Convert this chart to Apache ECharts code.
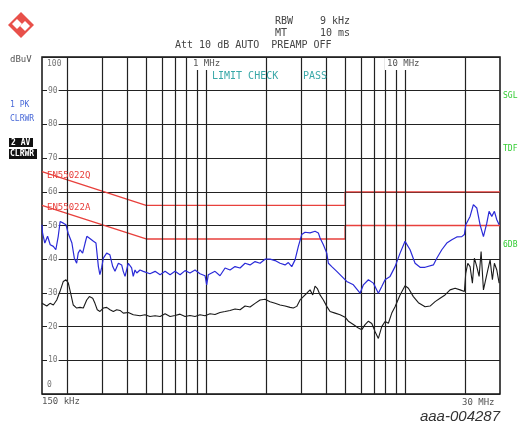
<!DOCTYPE html>
<html><head><meta charset="utf-8">
<script src="https://cdn.jsdelivr.net/npm/echarts@6/dist/echarts.min.js"></script>
<style>html,body{margin:0;padding:0;background:#fff;}#c{width:522px;height:430px;}</style>
</head><body><div id="c"></div>
<script>
// ---- data (frequency in MHz, level in dBuV) ----
const pkFreq = [0.150,0.151,0.155,0.160,0.165,0.171,0.176,0.181,0.185,0.188,0.192,0.198,0.203,0.212,0.218,0.224,0.228,0.233,0.240,0.247,0.252,0.259,0.272,0.280,0.288,0.293,0.299,0.305,0.317,0.329,0.340,0.349,0.356,0.363,0.370,0.377,0.384,0.392,0.407,0.415,0.423,0.431,0.440,0.449,0.466,0.484,0.494,0.523,0.555,0.588,0.623,0.660,0.699,0.741,0.785,0.831,0.881,0.933,0.989,1.008,1.027,1.110,1.176,1.247,1.321,1.399,1.483,1.571,1.665,1.764,1.869,1.980,2.098,2.224,2.356,2.496,2.593,2.697,2.802,2.911,3.027,3.145,3.333,3.531,3.668,3.742,3.888,4.044,4.120,4.285,4.540,4.809,5.095,5.500,5.945,6.177,6.545,6.933,7.345,7.640,7.937,8.410,8.911,9.442,10.00,10.20,10.60,11.23,11.90,12.61,13.88,14.44,15.30,16.21,17.18,18.20,19.28,19.87,20.19,21.22,22.05,22.93,23.83,24.77,25.75,26.44,27.28,28.12,28.91,29.70];
const pkLevel = [50.2,47.7,44.8,46.8,44.3,43.8,42.8,46.8,51.2,51.7,50.7,50.2,47.7,44.8,40.3,38.8,41.8,42.8,41.8,44.8,46.8,46.3,45.3,44.8,37.8,35.4,37.4,40.3,41.8,41.3,37.8,36.4,35.9,38.8,39.3,38.3,36.4,34.9,38.8,38.3,37.4,34.9,36.8,35.9,36.8,36.4,36.6,35.7,36.4,35.4,36.4,35.4,36.4,35.4,36.6,35.9,36.8,35.7,35.1,32.4,35.4,36.4,35.1,37.4,36.8,37.8,37.4,38.8,38.3,39.3,38.8,40.0,40.0,39.6,38.8,38.3,39.0,37.8,39.8,43.8,47.3,48.0,47.8,48.3,47.8,46.3,44.3,41.8,38.8,37.8,36.4,34.9,33.4,32.4,29.9,32.4,33.9,32.9,29.9,31.9,33.9,34.9,37.8,41.8,45.3,45.8,42.8,38.8,37.6,37.6,38.3,40.3,42.8,44.8,45.8,46.6,46.7,47.3,50.2,52.7,56.2,55.2,50.2,46.7,50.7,54.2,52.7,54.2,51.7,50.2];

const avFreq = [0.150,0.1523,0.1585,0.1646,0.171,0.1779,0.1846,0.1919,0.198,0.2034,0.2089,0.2154,0.224,0.2328,0.2419,0.2516,0.2594,0.2697,0.2768,0.2843,0.2934,0.3048,0.317,0.3294,0.3424,0.356,0.370,0.3843,0.407,0.4314,0.4662,0.494,0.523,0.555,0.588,0.623,0.660,0.699,0.741,0.785,0.831,0.881,0.933,0.989,1.048,1.110,1.176,1.247,1.321,1.399,1.483,1.571,1.665,1.764,1.869,1.980,2.098,2.224,2.356,2.496,2.644,2.746,2.857,2.969,3.084,3.208,3.333,3.439,3.531,3.627,3.742,3.888,4.044,4.201,4.452,4.716,4.998,5.191,5.500,5.828,6.062,6.300,6.545,6.808,7.073,7.345,7.640,7.937,8.247,8.580,8.911,9.442,10.00,10.40,11.01,11.67,12.61,13.36,14.16,15.00,15.89,16.84,17.85,18.91,19.87,20.19,20.67,21.22,21.80,22.31,22.93,23.56,24.11,24.77,25.25,26.06,26.76,27.48,28.12,28.91,29.70];
const avLevel = [26.9,26.4,26.1,26.9,26.4,27.9,30.4,33.4,33.9,32.9,29.9,26.4,25.5,25.7,25.5,27.9,28.9,28.4,26.9,25.0,24.5,25.5,25.7,25.0,24.5,25.0,24.8,24.0,24.2,23.5,23.2,23.5,23.0,23.2,23.0,23.8,23.0,23.3,23.7,23.0,23.3,23.0,23.5,23.2,23.8,23.6,24.2,24.5,24.8,25.2,25.0,26.1,25.8,26.9,27.9,28.1,27.4,26.9,26.4,26.1,25.7,25.5,26.0,27.9,28.9,29.9,30.9,29.4,32.0,31.3,29.4,27.9,26.0,24.5,24.0,23.5,22.8,21.6,20.6,19.6,19.1,20.6,21.6,20.9,18.5,16.5,20.0,21.5,21.0,24.0,25.9,29.4,32.1,31.4,28.9,27.1,25.9,26.1,27.4,28.4,29.4,30.9,31.4,30.9,30.4,35.9,38.8,37.8,32.9,40.3,37.8,34.9,42.3,30.9,30.4,36.8,39.8,33.9,38.8,36.8,32.9];

const limitFreq = [0.15, 0.5, 5, 5, 30];
const limitQP = [66, 56, 56, 60, 60];
const limitAV = [56, 46, 46, 50, 50];

const gridFreqs = [0.2,0.3,0.4,0.5,0.6,0.7,0.8,0.9,1,2,3,4,5,6,7,8,9,10,20];
const yMin = 0, yMax = 100, yStep = 10;

const pairs = (xs, ys) => xs.map((x, i) => [x, ys[i]]);

const MONO = '"DejaVu Sans Mono", monospace';
function txt(x, y, s, size, fill, extra) {
  return {
    type: 'text', x: x, y: y, silent: true, z: 100,
    style: Object.assign({ text: s, font: size + 'px ' + MONO, fill: fill, verticalAlign: 'middle', align: 'left' }, extra || {})
  };
}

const chart = echarts.init(document.getElementById('c'));
chart.setOption({
  animation: false,
  backgroundColor: '#fff',
  grid: { left: 42, top: 57, width: 458, height: 337, show: true, borderColor: '#111', borderWidth: 1.5, backgroundColor: 'transparent' },
  xAxis: { type: 'log', logBase: 10, min: 0.15, max: 30,
    axisLine: { show: false }, axisTick: { show: false }, axisLabel: { show: false }, splitLine: { show: false } },
  yAxis: { type: 'value', min: yMin, max: yMax, interval: yStep,
    axisLine: { show: false }, axisTick: { show: false },
    splitLine: { lineStyle: { color: '#222', width: 1.2 } },
    axisLabel: { inside: true, margin: 5, color: '#777', fontSize: 8, fontFamily: MONO,
      formatter: v => v === yMax ? '{a|' + v + '}' : (v === yMin ? '{b|' + v + '}' : '{c|' + v + '}'),
      rich: {
        a: { padding: [14, 0, 0, 0], fontSize: 8, color: '#777', fontFamily: MONO },
        b: { padding: [0, 0, 18, 0], fontSize: 8, color: '#777', fontFamily: MONO },
        c: { backgroundColor: '#fff', padding: [0, 1, 0, 1], fontSize: 8, color: '#777', fontFamily: MONO }
      } } },
  series: [
    { type: 'line', data: [], silent: true, z: 1,
      markLine: { silent: true, symbol: ['none', 'none'], label: { show: false }, animation: false,
        lineStyle: { color: '#222', width: 1.2, type: 'solid' },
        data: gridFreqs.map(f => ({ xAxis: f })) } },
    { name: 'QP limit', type: 'line', data: pairs(limitFreq, limitQP), showSymbol: false, silent: true, z: 3,
      lineStyle: { color: '#e8403c', width: 1.3 } },
    { name: 'AV limit', type: 'line', data: pairs(limitFreq, limitAV), showSymbol: false, silent: true, z: 3,
      lineStyle: { color: '#e8403c', width: 1.3 } },
    { name: '2 AV', type: 'line', data: pairs(avFreq, avLevel), showSymbol: false, silent: true, z: 4,
      lineStyle: { color: '#1a1a1a', width: 1.1 } },
    { name: '1 PK', type: 'line', data: pairs(pkFreq, pkLevel), showSymbol: false, silent: true, z: 5,
      lineStyle: { color: '#2a2ad8', width: 1.2 } }
  ],
  graphic: [
    // logo
    { type: 'polygon', shape: { points: [[21, 12], [34, 25], [21, 38], [8, 25]] }, style: { fill: '#e8504a' }, silent: true },
    { type: 'polygon', shape: { points: [[17, 19], [22, 24], [17, 29], [12, 24]] }, style: { fill: '#fff' }, silent: true },
    { type: 'polygon', shape: { points: [[25, 21], [30, 26], [25, 31], [20, 26]] }, style: { fill: '#fff' }, silent: true },
    // white masks behind the frequency marks at the top of the frame
    { type: 'rect', z: 50, silent: true, shape: { x: 191, y: 58, width: 32, height: 12 }, style: { fill: '#fff' } },
    { type: 'rect', z: 50, silent: true, shape: { x: 385, y: 58, width: 37, height: 12 }, style: { fill: '#fff' } },
    txt(275, 21.5, 'RBW', 10, '#444'),
    txt(320, 21.5, '9 kHz', 10, '#444'),
    txt(275, 33, 'MT', 10, '#444'),
    txt(320, 33, '10 ms', 10, '#444'),
    txt(175, 45, 'Att 10 dB AUTO  PREAMP OFF', 10, '#444'),
    txt(10, 60, 'dBuV', 9, '#555'),
    txt(10, 105, '1 PK', 8, '#4a6ad8'),
    txt(10, 119, 'CLRWR', 8, '#4a6ad8'),
    { type: 'rect', shape: { x: 9, y: 138, width: 24, height: 9 }, style: { fill: '#111' }, silent: true },
    { type: 'rect', shape: { x: 9, y: 149, width: 28, height: 10 }, style: { fill: '#111' }, silent: true },
    txt(11, 142.5, '2 AV', 8, '#fff', { font: 'bold 8px ' + MONO }),
    txt(10, 154, 'CLRWR', 8, '#fff', { font: 'bold 8px ' + MONO }),
    txt(193, 64, '1 MHz', 9, '#555'),
    txt(387, 64, '10 MHz', 9, '#555'),
    txt(212, 76, 'LIMIT CHECK', 10, '#3aa8a8'),
    txt(303, 76, 'PASS', 10, '#3aa8a8'),
    txt(47, 175.5, 'EN55022Q', 9, '#e8403c'),
    txt(47, 207.5, 'EN55022A', 9, '#e8403c'),
    txt(503, 96, 'SGL', 8, '#3c3'),
    txt(503, 149, 'TDF', 8, '#3c3'),
    txt(503, 245, '6DB', 8, '#3c3'),
    txt(42, 402, '150 kHz', 9, '#555'),
    txt(462, 402.5, '30 MHz', 9, '#555'),
    { type: 'text', x: 500, y: 417, silent: true,
      style: { text: 'aaa-004287', font: 'italic 15px "Liberation Sans", Arial, sans-serif', fill: '#333', align: 'right', verticalAlign: 'middle' } }
  ]
});
</script>
</body></html>
